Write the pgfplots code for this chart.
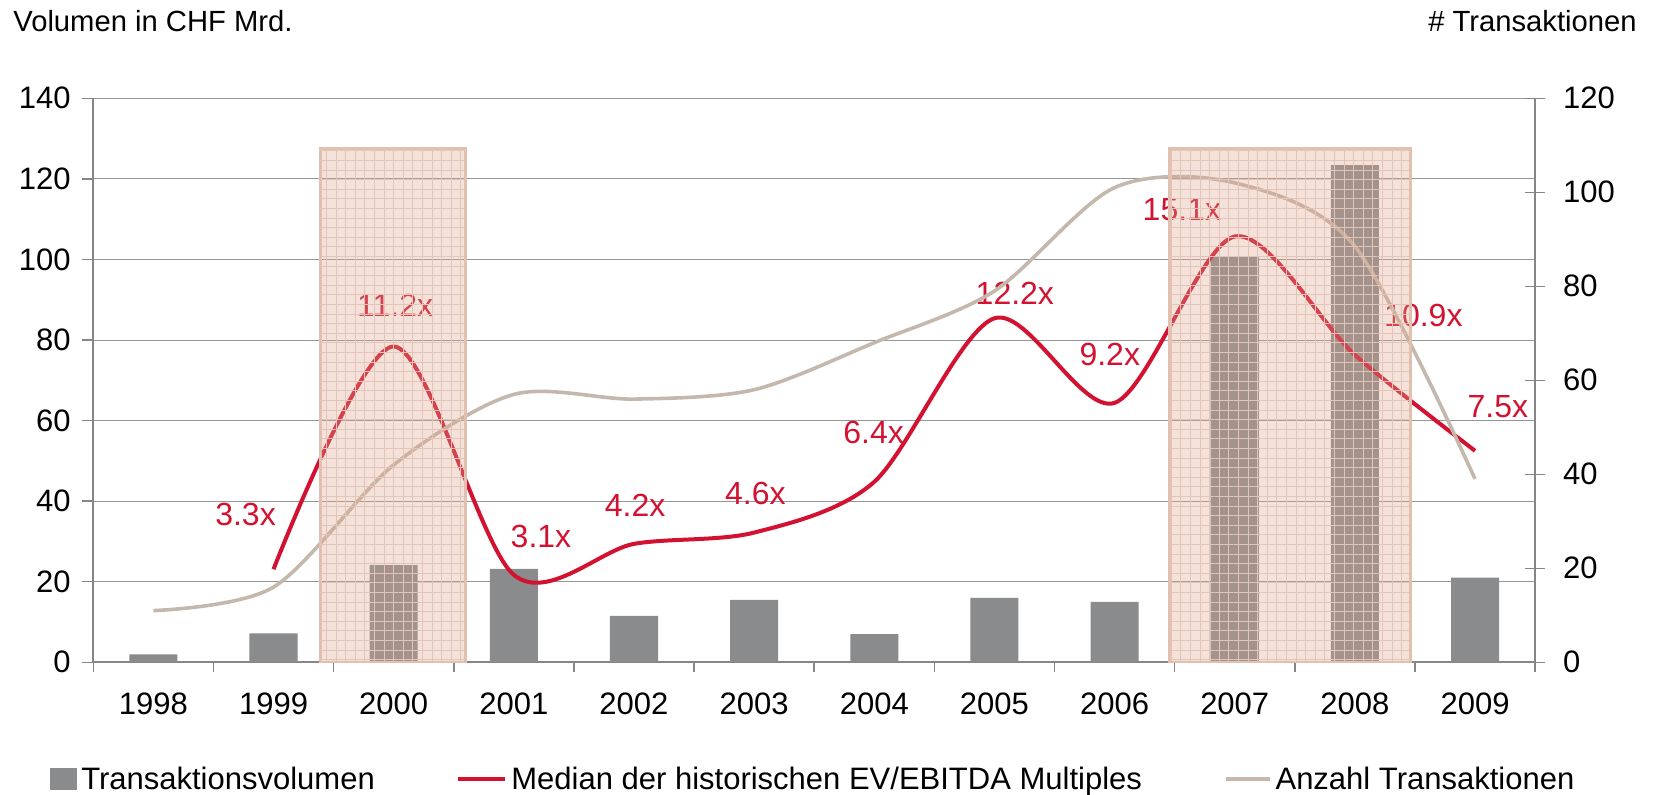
\documentclass[border=0pt]{standalone}
\usepackage{fontspec}
\setmainfont{Liberation Sans}
\usepackage{pgfplots}
\pgfplotsset{compat=1.18}
\usetikzlibrary{patterns.meta}
\definecolor{barc}{RGB}{137,139,140}
\definecolor{redc}{RGB}{210,18,48}
\definecolor{beigec}{RGB}{196,184,172}
\definecolor{axisgray}{RGB}{134,134,134}
\definecolor{gridc}{RGB}{150,150,150}
\definecolor{rectfill}{RGB}{222,165,140}
\definecolor{rectpat}{RGB}{228,196,183}
\definecolor{rectborder}{RGB}{226,192,176}
\begin{document}
\begin{tikzpicture}[font=\fontsize{15.5}{18}\selectfont]
\useasboundingbox (0,0) rectangle (829pt,397pt);
\pgfplotsset{
  base/.style={
    at={(46.65pt,65.85pt)}, anchor=south west, scale only axis,
    width=720.9pt, height=282pt, xmin=-0.5, xmax=11.5,
    /pgf/number format/assume math mode=true,
    tick label style={font=\fontsize{15.5}{18}\selectfont},
  }
}
% ---- Axis A: left scale, bars ----
\begin{axis}[base,
  ymin=0, ymax=140,
  axis x line*=bottom, axis y line*=left,
  xtick={0,...,11},
  xticklabels={1998,1999,2000,2001,2002,2003,2004,2005,2006,2007,2008,2009},
  major x tick style={draw=none},
  minor xtick={-0.5,0.5,...,11.5},
  minor tick length=5pt,
  ytick={0,20,...,140},
  major tick length=5.8pt,
  tick align=outside,
  ymajorgrids, grid style={gridc, line width=0.5pt},
  axis line style={axisgray, line width=1pt},
  every tick/.style={axisgray, line width=0.75pt},
  yticklabel style={xshift=-2pt},
  xticklabel style={yshift=-6pt},
  legend columns=3,
  legend style={at={(axis description cs:0,0)}, anchor=west,
    xshift=-21.8pt, yshift=-58.5pt, draw=none, fill=none, inner sep=0pt,
    font=\fontsize{15.5}{18}\selectfont,
    /tikz/every even column/.append style={column sep=38.8pt}},
  legend cell align=left,
]
\addplot[ybar, bar width=0.4, bar shift=0pt, fill=barc, draw=none, forget plot]
  coordinates {(0,2) (1,7.2) (2,24.1) (3,23.2) (4,11.5) (5,15.5) (6,7) (7,16) (8,15) (9,100.6) (10,123.4) (11,21)};
\addlegendimage{legend image code/.code={\fill[barc] (0pt,-5.25pt) rectangle (13.2pt,5.25pt);}}
\addlegendentry{Transaktionsvolumen}
\addlegendimage{legend image code/.code={\draw[redc, line width=2pt] (0pt,0pt) -- (23.5pt,0pt);}}
\addlegendentry{Median der historischen EV/EBITDA Multiples}
\addlegendimage{legend image code/.code={\draw[beigec, line width=2pt] (0pt,0pt) -- (22pt,0pt);}}
\addlegendentry{Anzahl Transaktionen}
\end{axis}
% ---- Axis B: multiples (hidden scale 0-20) ----
\begin{axis}[base, ymin=0, ymax=20, hide axis, clip=false]
\addplot[redc, line width=2pt, smooth, tension=0.5]
  coordinates {(1,3.3) (2,11.2) (3,3.1) (4,4.2) (5,4.6) (6,6.4) (7,12.2) (8,9.2) (9,15.1) (10,10.9) (11,7.5)};
\begin{scope}[every node/.style={text=redc, font=\fontsize{16}{18}\selectfont}]
\node at (axis cs:0.767,5.23) {3.3x};
\node at (axis cs:2.012,12.67) {11.2x};
\node at (axis cs:3.226,4.45) {3.1x};
\node at (axis cs:4.01,5.55) {4.2x};
\node at (axis cs:5.01,5.98) {4.6x};
\node at (axis cs:5.995,8.15) {6.4x};
\node at (axis cs:7.17,13.08) {12.2x};
\node at (axis cs:7.96,10.93) {9.2x};
\node at (axis cs:8.56,16.04) {15.1x};
\node at (axis cs:10.57,12.31) {10.9x};
\node at (axis cs:11.19,9.06) {7.5x};
\end{scope}
\end{axis}
% ---- Axis C: right scale, count + highlight boxes ----
\begin{axis}[base, ymin=0, ymax=120,
  axis y line*=right, axis x line=none,
  ytick={0,20,...,120},
  tick align=center, major tick length=10pt,
  axis line style={axisgray, line width=1pt},
  every tick/.style={axisgray, line width=0.75pt},
  yticklabel style={xshift=5.5pt},
]
\addplot[beigec, line width=1.8pt, smooth, tension=0.5]
  coordinates {(0,11) (1,16) (2,42) (3,57) (4,56) (5,58) (6,68) (7,79) (8,101) (9,102) (10,88.5) (11,39)};
\addplot[draw=none, fill=rectfill, fill opacity=0.32]
  coordinates {(1.393,0) (1.393,109.3) (2.595,109.3) (2.595,0)} -- cycle;
\addplot[draw=rectborder, line width=1.5pt, pattern={Hatch[angle=0,distance=4.8pt,line width=0.4pt]}, pattern color=rectpat]
  coordinates {(1.393,0) (1.393,109.3) (2.595,109.3) (2.595,0)} -- cycle;
\addplot[draw=none, fill=rectfill, fill opacity=0.32]
  coordinates {(8.455,0) (8.455,109.3) (10.46,109.3) (10.46,0)} -- cycle;
\addplot[draw=rectborder, line width=1.5pt, pattern={Hatch[angle=0,distance=4.8pt,line width=0.4pt]}, pattern color=rectpat]
  coordinates {(8.455,0) (8.455,109.3) (10.46,109.3) (10.46,0)} -- cycle;
\end{axis}
\node[anchor=base west, inner sep=0pt, font=\fontsize{14.6}{18}\selectfont] at (6.5pt,381pt) {Volumen in CHF Mrd.};
\node[anchor=base east, inner sep=0pt, font=\fontsize{14.6}{18}\selectfont] at (818.5pt,381pt) {\# Transaktionen};
\end{tikzpicture}
\end{document}
